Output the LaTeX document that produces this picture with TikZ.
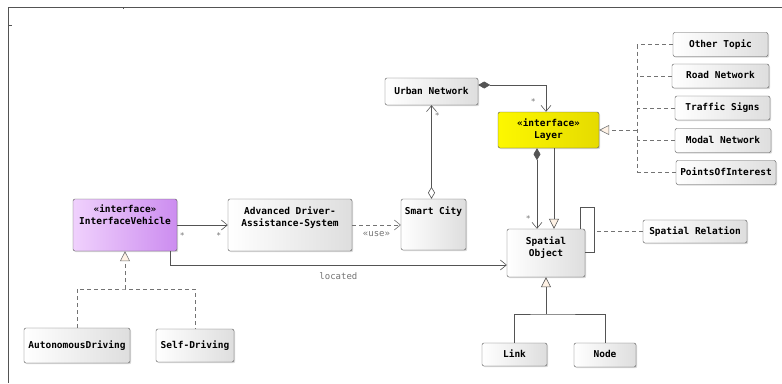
\documentclass[tikz,border=0pt]{standalone}
\usepackage{fontspec}
\usetikzlibrary{arrows.meta}
\usetikzlibrary{positioning}
\usetikzlibrary{shadows}
\newfontfamily\umlfont{DejaVu Sans Mono}
\definecolor{linegray}{rgb}{0.33,0.33,0.33}
\definecolor{dashgray}{rgb}{0.45,0.45,0.45}
\definecolor{boxgray}{rgb}{0.87,0.87,0.87}
\definecolor{violetlight}{rgb}{0.94,0.82,0.99}
\definecolor{violetdark}{rgb}{0.80,0.55,0.94}
\definecolor{layeryellow}{rgb}{0.99,0.97,0.0}
\definecolor{layerdark}{rgb}{0.90,0.86,0.0}
\definecolor{tipfill}{rgb}{1,0.95,0.9}

\begin{document}
\begin{tikzpicture}[x=1pt, y=-1pt, % Pixelmasse, y nach unten
  box/.style={draw=linegray, rounded corners=2pt, left color=white, right color=boxgray,
    drop shadow={shadow xshift=1.2pt, shadow yshift=-1.2pt, opacity=0.3},
    font=\umlfont\bfseries\fontsize{9.5}{11.5}\selectfont, align=center, inner sep=3pt,
    text height=7pt, text depth=2pt},
  tallbox/.style 2 args={box, text height=#1, text depth=#2},
  line/.style={draw=linegray, line width=0.6pt},
  dashline/.style={draw=dashgray, line width=0.6pt, dash pattern=on 4pt off 3pt},
  star/.style={font=\umlfont\fontsize{8}{9}\selectfont, text=dashgray, inner sep=1pt},
  note/.style={font=\umlfont\fontsize{9}{11}\selectfont, text=dashgray, inner sep=1pt},
  uvee/.tip={Straight Barb[length=6pt, width=10pt]},
  utri/.tip={Triangle[length=10pt, width=10pt, fill=tipfill]},
  ucomp/.tip={Diamond[length=12pt, width=7pt]},
  uaggr/.tip={Diamond[length=12pt, width=7pt, fill=white]}]

\useasboundingbox (0,0) rectangle (782,383);

% Rahmen
\draw[linegray, line width=0.6pt] (782,7) -- (8,7) -- (8,383);
\draw[linegray] (8,25) -- (12,25);
\draw[linegray] (123,7) -- (123,9);

% Klassen
\node[box, minimum width=93pt, minimum height=27pt] (urban) at (431.5,91.5) {Urban Network};
\node[tallbox={23pt}{7pt}, minimum width=101pt, left color=layeryellow, right color=layerdark] (layer) at (548.5,130) {«interface»\\Layer};
\node[tallbox={22pt}{24pt}, minimum width=104pt, left color=violetlight, right color=violetdark] (vehicle) at (125,225) {«interface»\\InterfaceVehicle};
\node[tallbox={24pt}{22pt}, minimum width=124pt] (adas) at (290,225) {Advanced Driver-\\Assistance-System};
\node[tallbox={12pt}{33pt}, minimum width=65pt] (smart) at (433.5,224.5) {Smart City};
\node[tallbox={24pt}{18pt}, minimum width=78pt] (spatial) at (546,253) {Spatial\\Object};
\node[box, minimum width=104pt, minimum height=23pt] (relation) at (695,231.5) {Spatial Relation};
\node[box, minimum width=65pt, minimum height=23pt] (link) at (514.5,354.5) {Link};
\node[box, minimum width=62pt, minimum height=24pt] (nodebox) at (605,355) {Node};
\node[box, minimum width=106pt, minimum height=35pt] (autodriving) at (77,345.5) {AutonomousDriving};
\node[box, minimum width=78pt, minimum height=33pt] (selfdriving) at (195,345.5) {Self-Driving};

% Themen rechts, realisieren Layer
\coordinate (real) at (637,130);
\foreach \name/\cx/\cy/\w/\txt in {othertopic/720.5/44.5/95/Other Topic, roadnet/720.5/76/97/Road Network,
    traffic/722.5/108/95/Traffic Signs, modal/723/140.5/96/Modal Network, poi/726/172.5/100/PointsOfInterest} {
  \node[box, minimum width=\w pt, minimum height=24pt] (\name) at (\cx,\cy) {\txt};
  \draw[dashline] (\name.west) -- (\name.west -| real);
}
\draw[dashline] (othertopic.west -| real) -- (poi.west -| real);
\draw[dashline, -utri] (real) -- (layer.east);

% Assoziationen
\draw[line, ucomp-uvee] ([yshift=6.5pt]urban.east) -| (layer.north -| 546,0) node[star, pos=0.8, left=9pt] (s1) {*};
\draw[line, uvee-uaggr] (urban.south) -- (smart.north -| urban.south) node[star, pos=0.11, right=2pt] (s2) {*};
\draw[line, ucomp-uvee] (layer.south -| 537,0) -- (spatial.north -| 537,0) node[star, pos=0.87, left=5pt] (s3) {*};
\draw[line, -utri] (layer.south -| 554,0) -- (spatial.north -| 554,0);

% Selbstbeziehung mit Assoziationsklasse
\draw[line] (spatial.north -| 580,0) |- (594,207) |- (spatial.east |- 0,252);
\draw[dashline] (relation.west) -- (relation.west -| 594,0);

\draw[line, -uvee] (vehicle.east) -- (adas.west) node[star, pos=0.1, below=6pt] (s4) {*} node[star, pos=0.82, below=6pt] (s5) {*};
\draw[dashline, -uvee] (adas.east) -- (smart.west |- adas.east) node[note, midway, below=5pt] (use) {«use»};
\draw[line, -uvee] (vehicle.south -| 170,0) |- (spatial.west |- 0,265) node[note, pos=0.75, below=6pt] (located) {located};

% Realisierung InterfaceVehicle
\coordinate (realv) at (125,289);
\draw[dashline] (autodriving.north) |- (realv) -| (selfdriving.north);
\draw[dashline, -utri] (realv) -- (vehicle.south);

% Generalisierung Spatial Object
\coordinate (gen) at (546,314);
\draw[line] (link.north) |- (gen) -| (nodebox.north);
\draw[line, -utri] (gen) -- (spatial.south);

\end{tikzpicture}
\end{document}
